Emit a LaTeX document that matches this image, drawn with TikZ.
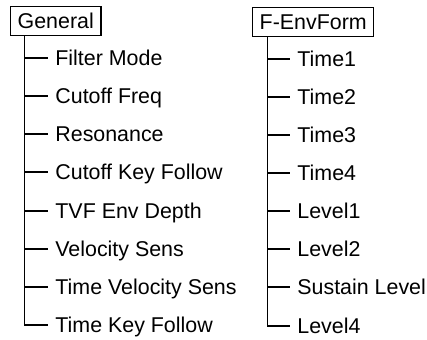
\documentclass[tikz,border=0pt]{standalone}
\usepackage{fontspec}
\setmainfont{Liberation Sans}
\usetikzlibrary{positioning}

\begin{document}
\begin{tikzpicture}[
  x=0.5pt, y=-0.5pt,
  every node/.style={font=\fontsize{10.7}{12}\selectfont, text height=0.72em, text depth=0pt},
  group/.style={draw, line width=0.7pt, inner xsep=3.5pt, inner ysep=0pt, minimum height=14.5pt},
  param/.style={anchor=west, inner xsep=3.5pt, inner ysep=1pt},
  branch/.style={line width=0.7pt}
]
  \useasboundingbox (0,0) rectangle (427,339);

  % left tree
  \node[group, anchor=north west] (general) at (10,6) {General};
  \coordinate (gtrunk) at ([xshift=7.2pt]general.south west);

  \node[param] (fmode)  at (48,58)  {Filter Mode};
  \node[param] (cfreq)  at (48,96)  {Cutoff Freq};
  \node[param] (reso)   at (48,134) {Resonance};
  \node[param] (ckey)   at (48,172) {Cutoff Key Follow};
  \node[param] (tvfenv) at (48,211) {TVF Env Depth};
  \node[param] (velo)   at (48,249) {Velocity Sens};
  \node[param] (tvelo)  at (48,287) {Time Velocity Sens};
  \node[param] (tkey)   at (48,325) {Time Key Follow};

  \draw[branch] (gtrunk) |- (tkey.west);
  \draw[branch] (gtrunk |- fmode.west) -- (fmode.west);
  \draw[branch] (gtrunk |- cfreq.west) -- (cfreq.west);
  \draw[branch] (gtrunk |- reso.west) -- (reso.west);
  \draw[branch] (gtrunk |- ckey.west) -- (ckey.west);
  \draw[branch] (gtrunk |- tvfenv.west) -- (tvfenv.west);
  \draw[branch] (gtrunk |- velo.west) -- (velo.west);
  \draw[branch] (gtrunk |- tvelo.west) -- (tvelo.west);

  % right tree
  \node[group, anchor=north west] (fenv) at (252,7) {F-EnvForm};
  \coordinate (ftrunk) at ([xshift=7.7pt]fenv.south west);

  \node[param] (time1)   at (290,59)  {Time1};
  \node[param] (time2)   at (290,97)  {Time2};
  \node[param] (time3)   at (290,135) {Time3};
  \node[param] (time4)   at (290,173) {Time4};
  \node[param] (level1)  at (290,211) {Level1};
  \node[param] (level2)  at (290,249) {Level2};
  \node[param] (sustain) at (290,287) {Sustain Level};
  \node[param] (level4)  at (290,326) {Level4};

  \draw[branch] (ftrunk) |- (level4.west);
  \draw[branch] (ftrunk |- time1.west) -- (time1.west);
  \draw[branch] (ftrunk |- time2.west) -- (time2.west);
  \draw[branch] (ftrunk |- time3.west) -- (time3.west);
  \draw[branch] (ftrunk |- time4.west) -- (time4.west);
  \draw[branch] (ftrunk |- level1.west) -- (level1.west);
  \draw[branch] (ftrunk |- level2.west) -- (level2.west);
  \draw[branch] (ftrunk |- sustain.west) -- (sustain.west);

\end{tikzpicture}
\end{document}
